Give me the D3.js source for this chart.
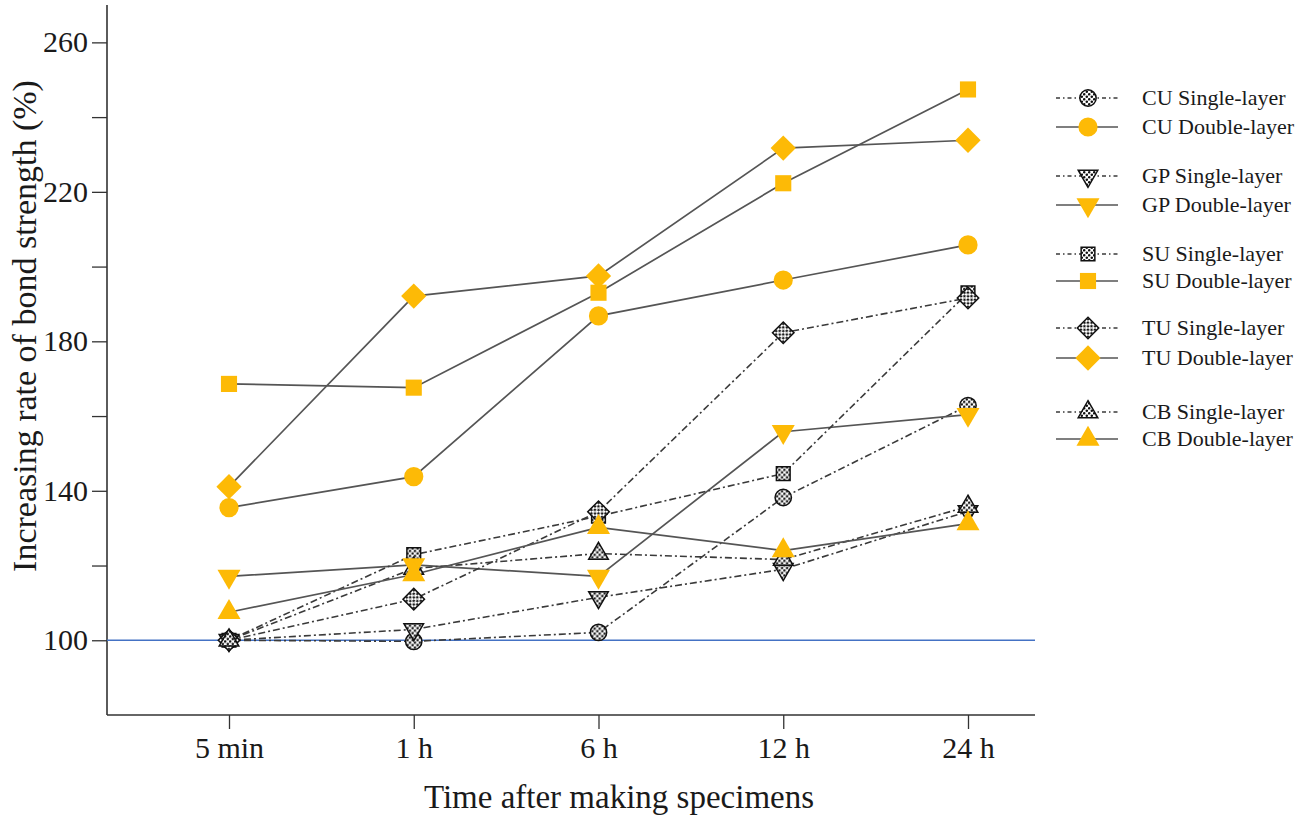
<!DOCTYPE html>
<html>
<head>
<meta charset="utf-8">
<script src="https://cdn.jsdelivr.net/npm/d3@7"></script>
<style>
  html, body { margin: 0; padding: 0; background: #fff; }
  text { font-family: "Liberation Serif", "Times New Roman", serif; fill: #1a1a1a; }
</style>
</head>
<body>
<svg id="chart" width="1307" height="818"></svg>
<script>
// ---- data ----
const categories = ["5 min", "1 h", "6 h", "12 h", "24 h"];
const yTicks = [100, 120, 140, 160, 180, 200, 220, 240, 260];
const yTickLabels = ["100", "", "140", "", "180", "", "220", "", "260"];

const cuSingle = [100, 99.7, 102.1, 138.2, 162.8];
const cuDouble = [135.5, 143.8, 186.8, 196.4, 205.8];
const gpSingle = [100, 102.9, 111.5, 119, 134.5];
const gpDouble = [117.1, 120.2, 117.1, 155.8, 160.4];
const suSingle = [100, 122.9, 133.2, 144.6, 193];
const suDouble = [168.6, 167.6, 193, 222.3, 247.4];
const tuSingle = [100, 111, 134.4, 182.3, 191.6];
const tuDouble = [141.1, 192.1, 197.5, 231.7, 233.8];
const cbSingle = [100, 119.2, 123.2, 121.6, 135.8];
const cbDouble = [107.5, 117.6, 130.2, 124, 131.2];

const seriesNames = ["CU Single-layer", "CU Double-layer", "GP Single-layer", "GP Double-layer",
  "SU Single-layer", "SU Double-layer", "TU Single-layer", "TU Double-layer",
  "CB Single-layer", "CB Double-layer"];
const seriesValues = [cuSingle, cuDouble, gpSingle, gpDouble, suSingle, suDouble, tuSingle, tuDouble, cbSingle, cbDouble];
const seriesShapes = ["circle", "circle", "down", "down", "square", "square", "diamond", "diamond", "up", "up"];
const referenceValue = 100;

(function () {
// ---- layout ----
const svg = d3.select("#chart");
const pLeft = 107, pRight = 1035, pTop = 5, pBottom = 715;
const orange = "#FDBA06";

const x = d3.scalePoint().domain(categories).range([229, 968]);
const y = d3.scaleLinear().domain([80, 270]).range([pBottom, pTop]);

// dot pattern
const defs = svg.append("defs");
const pat = defs.append("pattern").attr("id", "dots").attr("patternUnits", "userSpaceOnUse")
  .attr("width", 5).attr("height", 5);
pat.append("rect").attr("width", 5).attr("height", 5).attr("fill", "#fff");
pat.append("circle").attr("cx", 1.2).attr("cy", 1.3).attr("r", 1.3).attr("fill", "#111");
pat.append("circle").attr("cx", 3.8).attr("cy", 3.7).attr("r", 1.3).attr("fill", "#111");

// axes
const yAxis = d3.axisLeft(y).tickValues(yTicks).tickSize(15).tickPadding(4)
  .tickFormat((d, i) => yTickLabels[i]);
const gy = svg.append("g").attr("transform", `translate(${pLeft},0)`).call(yAxis);
gy.select(".domain").remove();
gy.selectAll(".tick line").attr("stroke", "#333").attr("stroke-width", 1.3);
gy.selectAll(".tick text").style("font-size", "30px").attr("fill", "#1a1a1a")
  .style("font-family", "Liberation Serif, serif");

const xAxis = d3.axisBottom(x).tickSize(14).tickPadding(8);
const gx = svg.append("g").attr("transform", `translate(0,${pBottom})`).call(xAxis);
gx.select(".domain").remove();
gx.selectAll(".tick line").attr("stroke", "#333").attr("stroke-width", 1.3);
gx.selectAll(".tick text").style("font-size", "30px").attr("fill", "#1a1a1a")
  .style("font-family", "Liberation Serif, serif");

// axis frame lines
svg.append("line").attr("x1", pLeft).attr("x2", pLeft).attr("y1", pTop).attr("y2", pBottom)
  .attr("stroke", "#333").attr("stroke-width", 1.6);
svg.append("line").attr("x1", pLeft).attr("x2", pRight).attr("y1", pBottom).attr("y2", pBottom)
  .attr("stroke", "#333").attr("stroke-width", 1.6);

// reference line
svg.append("line").attr("x1", pLeft).attr("x2", pRight)
  .attr("y1", y(referenceValue)).attr("y2", y(referenceValue))
  .attr("stroke", "#4472C4").attr("stroke-width", 1.3);

// titles
svg.append("text").attr("x", 619).attr("y", 808).attr("text-anchor", "middle")
  .style("font-size", "33px").text("Time after making specimens");
svg.append("text").attr("transform", `translate(36,326) rotate(-90)`)
  .attr("text-anchor", "middle").style("font-size", "34px")
  .text("Increasing rate of bond strength (%)");

// symbols
function symbolPath(shape, single) {
  const s = single ? 0.85 : 1;
  if (shape === "circle") return d3.symbol(d3.symbolCircle, 290 * s * s)();
  if (shape === "square") return d3.symbol(d3.symbolSquare, 260 * s * s)();
  if (shape === "diamond") return d3.symbol(d3.symbolSquare, 320 * s * s)();
  return d3.symbol(d3.symbolTriangle, 230 * s * s)();
}
function symbolRotate(shape) {
  if (shape === "diamond") return 45;
  if (shape === "down") return 180;
  return 0;
}

const line = d3.line().x((d, i) => x(categories[i])).y(d => y(d));

// lines: singles dash-dot, doubles solid
seriesValues.forEach((vals, k) => {
  const single = k % 2 === 0;
  svg.append("path").datum(vals).attr("d", line).attr("fill", "none")
    .attr("stroke", single ? "#3a3a3a" : "#555")
    .attr("stroke-width", single ? 1.6 : 1.7)
    .attr("stroke-dasharray", single ? "7,3,2,3" : null);
});

// markers: singles first, then doubles on top
[0, 1].forEach(pass => {
  seriesValues.forEach((vals, k) => {
    const single = k % 2 === 0;
    if ((pass === 0) !== single) return;
    const shape = seriesShapes[k];
    svg.append("g").selectAll("path").data(vals).join("path")
      .attr("d", symbolPath(shape, single))
      .attr("transform", (d, i) => `translate(${x(categories[i])},${y(d)}) rotate(${symbolRotate(shape)})`)
      .attr("fill", single ? "url(#dots)" : orange)
      .attr("stroke", single ? "#111" : "none")
      .attr("stroke-width", single ? 1.5 : 0);
  });
});

// legend
const legendY = [98, 127, 176, 205, 254, 281, 328, 358, 412, 439];
const lg = svg.append("g");
seriesNames.forEach((name, k) => {
  const single = k % 2 === 0;
  const yy = legendY[k];
  lg.append("line").attr("x1", 1056).attr("x2", 1118).attr("y1", yy).attr("y2", yy)
    .attr("stroke", single ? "#3a3a3a" : "#555")
    .attr("stroke-width", single ? 1.4 : 1.7)
    .attr("stroke-dasharray", single ? "4,3,1.5,3" : null);
  const shape = seriesShapes[k];
  lg.append("path").attr("d", symbolPath(shape, single))
    .attr("transform", `translate(1088,${yy}) rotate(${symbolRotate(shape)})`)
    .attr("fill", single ? "url(#dots)" : orange)
    .attr("stroke", single ? "#111" : "none")
    .attr("stroke-width", single ? 1.5 : 0);
  lg.append("text").attr("x", 1142).attr("y", yy + 7).style("font-size", "22px").text(name);
});
})();
</script>
</body>
</html>
